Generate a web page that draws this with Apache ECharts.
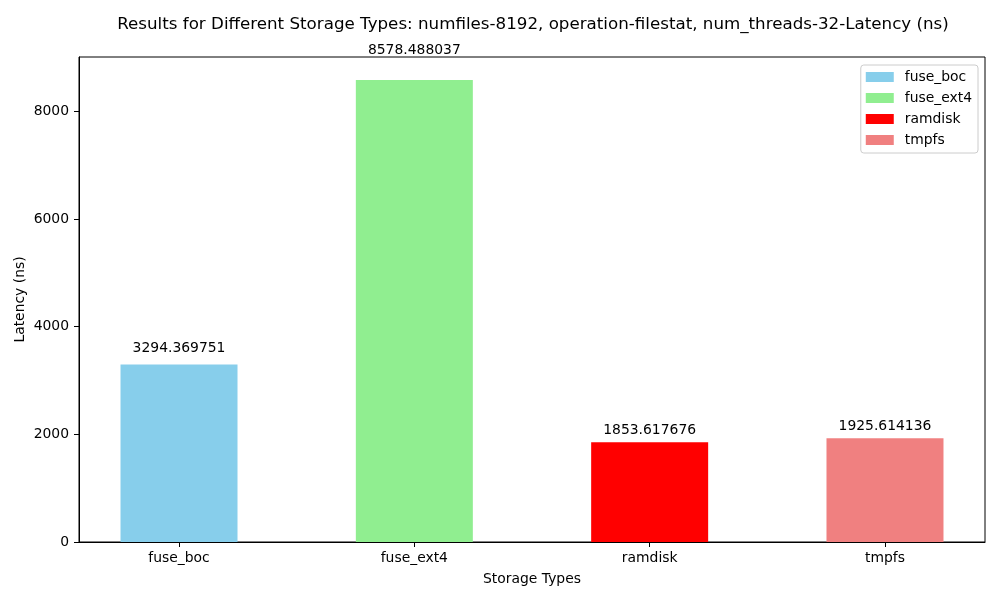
<!DOCTYPE html>
<html>
<head>
<meta charset="utf-8">
<script src="https://cdn.jsdelivr.net/npm/echarts@6/dist/echarts.min.js"></script>
<style>
  html, body { margin: 0; padding: 0; background: #fff; }
  #chart { width: 1000px; height: 600px; }
</style>
</head>
<body>
<div id="chart"></div>
<script>
// storage types and their latency (ns)
var categories = ['fuse_boc', 'fuse_ext4', 'ramdisk', 'tmpfs']
var latency = [3294.369751, 8578.488037, 1853.617676, 1925.614136]
var barColors = ['#87CEEB', '#90EE90', '#FF0000', '#F08080']
var yTicks = [0, 2000, 4000, 6000, 8000]

var font = 'DejaVu Sans'
var fs = 13.9
var xIdx = categories.map(function (c, i) { return i })

function buildSeries(offsets) {
  return categories.map(function (name, i) {
    return {
      name: name,
      type: 'bar',
      stack: 'all',
      barWidth: 117,
      itemStyle: { color: barColors[i] },
      label: {
        show: true,
        position: 'top',
        distance: 0,
        offset: [0, offsets ? -offsets[i] : 0],
        color: '#000',
        fontFamily: font,
        fontSize: fs,
        formatter: function () { return latency[i].toFixed(6) }
      },
      data: [[i, latency[i]]]
    }
  })
}

var chart = echarts.init(document.getElementById('chart'))
chart.setOption({
  animation: false,
  textStyle: { fontFamily: font },
  title: {
    text: 'Results for Different Storage Types: numfiles-8192, operation-filestat, num_threads-32-Latency (ns)',
    left: 528,
    top: 11,
    textAlign: 'center',
    textStyle: { fontFamily: font, fontSize: 16.7, fontWeight: 'normal', color: '#000' }
  },
  legend: {
    orient: 'vertical',
    right: 22,
    top: 65,
    itemWidth: 28,
    itemHeight: 10,
    itemGap: 7,
    padding: [5, 6, 6, 5],
    borderColor: '#cccccc',
    borderWidth: 1,
    borderRadius: 3,
    icon: 'rect',
    textStyle: { fontFamily: font, fontSize: fs, color: '#000', padding: [0, 0, 0, 6] },
    data: categories
  },
  grid: {
    left: 79,
    right: 15,
    top: 57,
    bottom: 58,
    show: true,
    borderColor: '#000',
    borderWidth: 1
  },
  xAxis: {
    type: 'value',
    min: -0.425,
    max: 3.425,
    name: 'Storage Types',
    nameLocation: 'middle',
    nameGap: 30,
    nameMoveOverlap: false,
    nameTextStyle: { fontFamily: font, fontSize: fs, color: '#000' },
    splitLine: { show: false },
    axisLine: { show: true, onZero: false, lineStyle: { color: '#000' } },
    axisTick: { show: true, length: 5, lineStyle: { color: '#000' }, customValues: xIdx },
    axisLabel: {
      color: '#000', fontSize: fs, fontFamily: font, margin: 9,
      customValues: xIdx,
      formatter: function (v) { return categories[Math.round(v)] }
    }
  },
  yAxis: {
    type: 'value',
    min: 0,
    max: latency[1] * 1.05,
    name: 'Latency (ns)',
    nameLocation: 'middle',
    nameGap: 52,
    nameMoveOverlap: false,
    nameTextStyle: { fontFamily: font, fontSize: fs, color: '#000' },
    splitLine: { show: false },
    axisLine: { show: true, onZero: false, lineStyle: { color: '#000' } },
    axisTick: { show: true, length: 5, lineStyle: { color: '#000' }, customValues: yTicks },
    axisLabel: {
      color: '#000', fontSize: fs, fontFamily: font, margin: 10,
      customValues: yTicks,
      formatter: function (v) { return String(v) }
    }
  },
  series: buildSeries(null)
})

// labels sit at 1.05 x bar height, like the original script
var offsets = latency.map(function (v) {
  return chart.convertToPixel({ yAxisIndex: 0 }, v) - chart.convertToPixel({ yAxisIndex: 0 }, v * 1.05)
})
chart.setOption({ series: buildSeries(offsets) })
</script>
</body>
</html>
